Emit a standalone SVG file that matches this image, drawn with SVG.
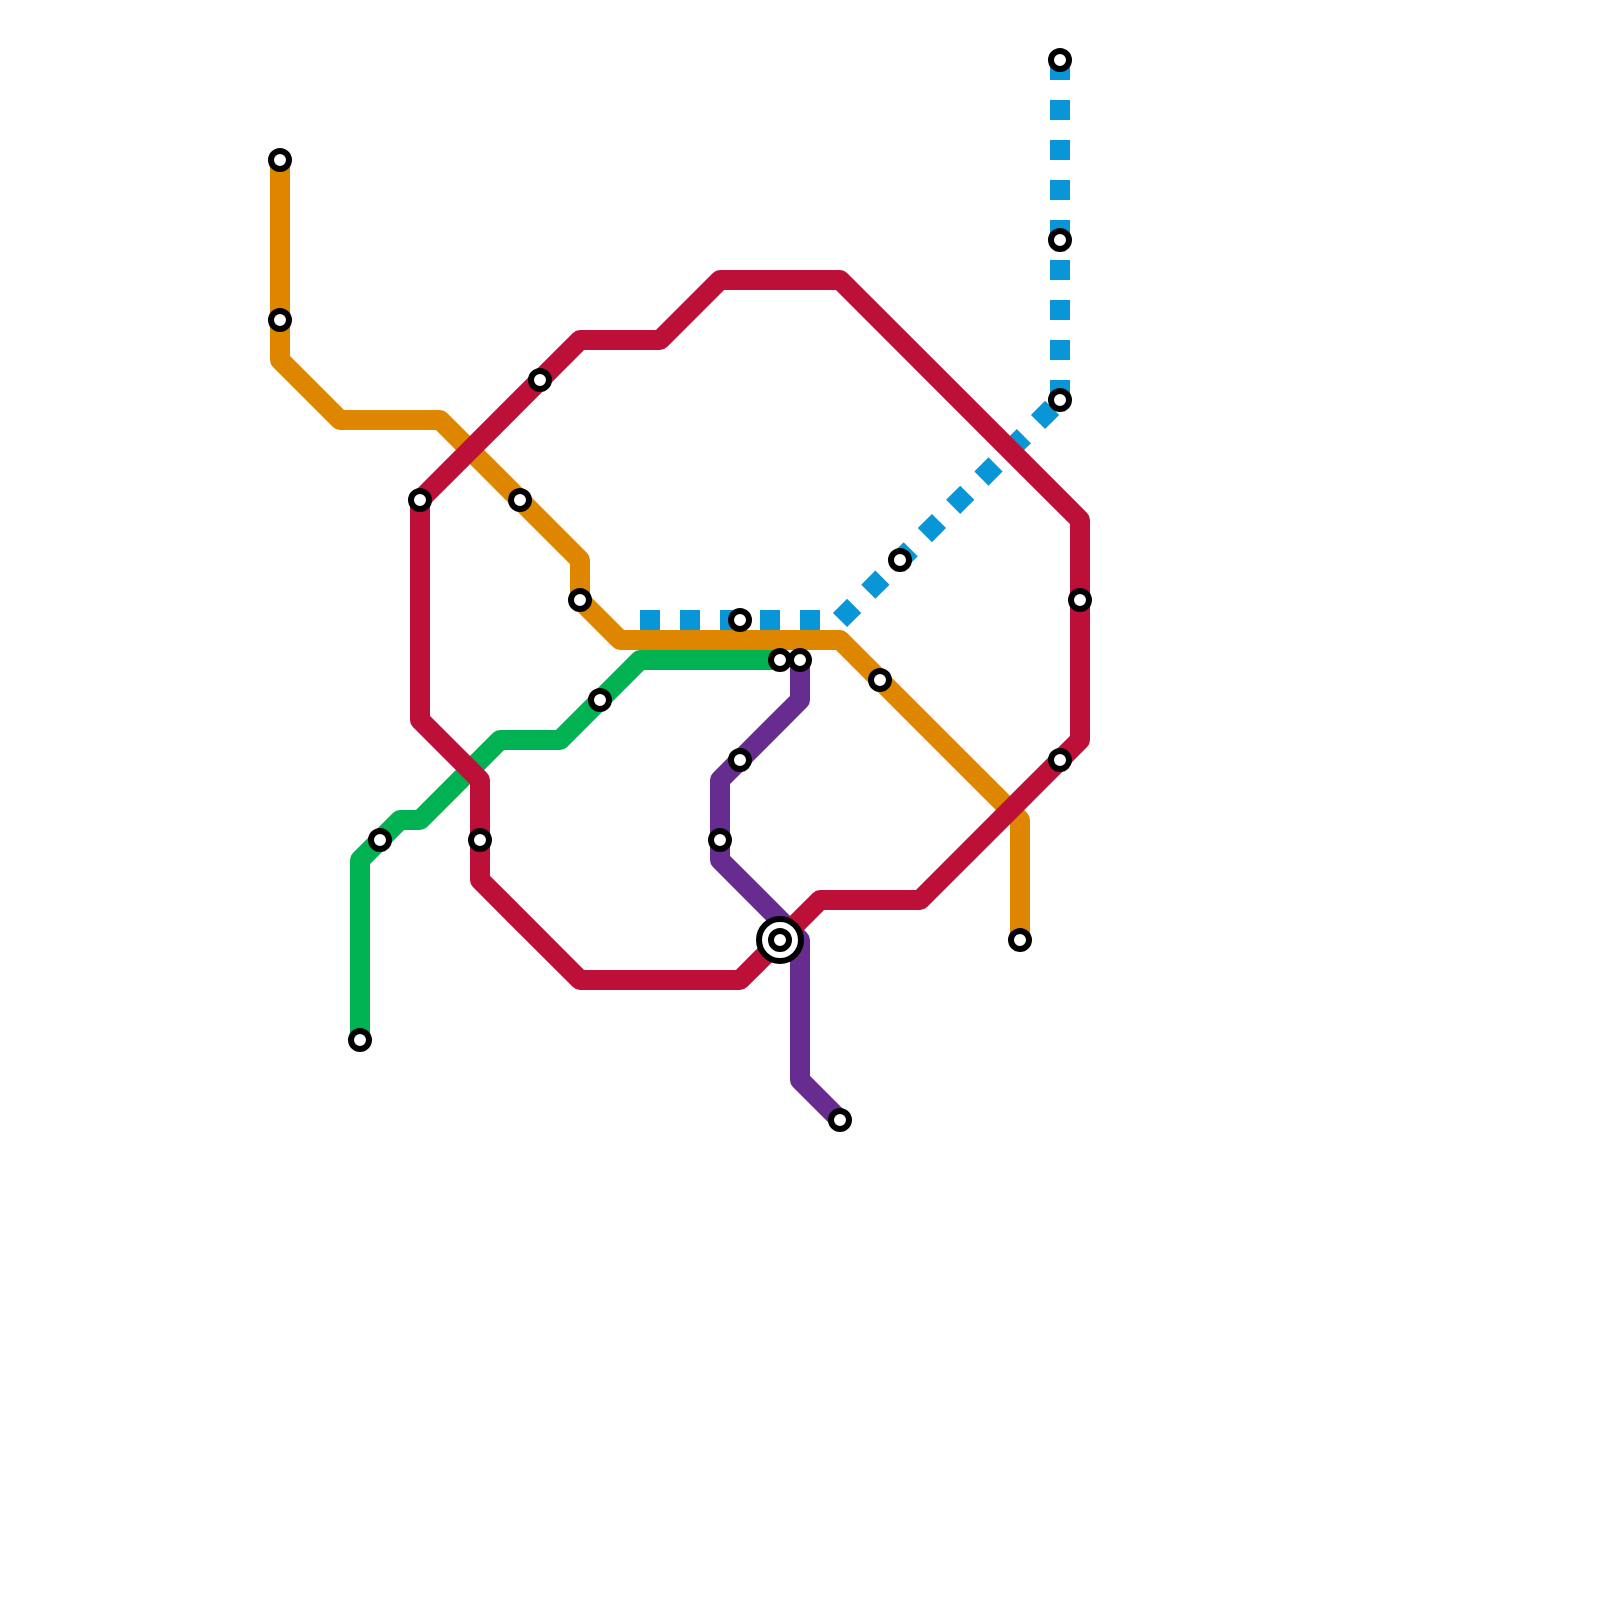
<svg xmlns="http://www.w3.org/2000/svg" width="1600" height="1600" viewBox="0 0 1600 1600">
<style>
.l{fill:none;stroke-width:20;stroke-linejoin:round}
.s{fill:#fff;stroke:#000;stroke-width:6}
</style>
<rect width="1600" height="1600" fill="#fff"/>
<g id="connectors">
<path class="l" stroke="#0896d7" stroke-dasharray="20 20" d="M640 620H840L1060 400"/>
<path class="l" stroke="#0896d7" stroke-dasharray="20 20" d="M1060 60V400"/>
<path class="l" stroke="#df8600" d="M280 160V360L340 420H440L580 560V600L620 640H840L1020 820V940"/>
<path class="l" stroke="#00b251" d="M360 1040V860L400 820H420L500 740H560L640 660H780"/>
<path class="l" stroke="#662c90" d="M800 660V700L720 780V860L800 940V1080L840 1120"/>
<path class="l" stroke="#bd1038" d="M420 500L580 340H660L720 280H840L1080 520V740L920 900H820L740 980H580L480 880V780L420 720Z"/>
</g>
<g id="stations">
<g id="st1"><circle class="s" cx="280" cy="160" r="9"/></g>
<g id="st2"><circle class="s" cx="280" cy="320" r="9"/></g>
<g id="st3"><circle class="s" cx="520" cy="500" r="9"/></g>
<g id="st4"><circle class="s" cx="580" cy="600" r="9"/></g>
<g id="st5"><circle class="s" cx="880" cy="680" r="9"/></g>
<g id="st6"><circle class="s" cx="1020" cy="940" r="9"/></g>
<g id="st7"><circle class="s" cx="420" cy="500" r="9"/></g>
<g id="st8"><circle class="s" cx="540" cy="380" r="9"/></g>
<g id="st9"><circle class="s" cx="1080" cy="600" r="9"/></g>
<g id="st10"><circle class="s" cx="1060" cy="760" r="9"/></g>
<g id="st11"><circle class="s" cx="480" cy="840" r="9"/></g>
<g id="st12"><circle class="s" cx="360" cy="1040" r="9"/></g>
<g id="st13"><circle class="s" cx="380" cy="840" r="9"/></g>
<g id="st14"><circle class="s" cx="600" cy="700" r="9"/></g>
<g id="st15"><circle class="s" cx="780" cy="660" r="9"/></g>
<g id="st16"><circle class="s" cx="800" cy="660" r="9"/></g>
<g id="st17"><circle class="s" cx="740" cy="760" r="9"/></g>
<g id="st18"><circle class="s" cx="720" cy="840" r="9"/></g>
<g id="st19"><circle class="s" cx="840" cy="1120" r="9"/></g>
<g id="st20"><circle class="s" cx="740" cy="620" r="9"/></g>
<g id="st21"><circle class="s" cx="900" cy="560" r="9"/></g>
<g id="st22"><circle class="s" cx="1060" cy="60" r="9"/></g>
<g id="st23"><circle class="s" cx="1060" cy="240" r="9"/></g>
<g id="st24"><circle class="s" cx="1060" cy="400" r="9"/></g>
<g id="interchange"><circle class="s" cx="780" cy="940" r="21"/><circle class="s" cx="780" cy="940" r="9"/></g>
</g>
</svg>
